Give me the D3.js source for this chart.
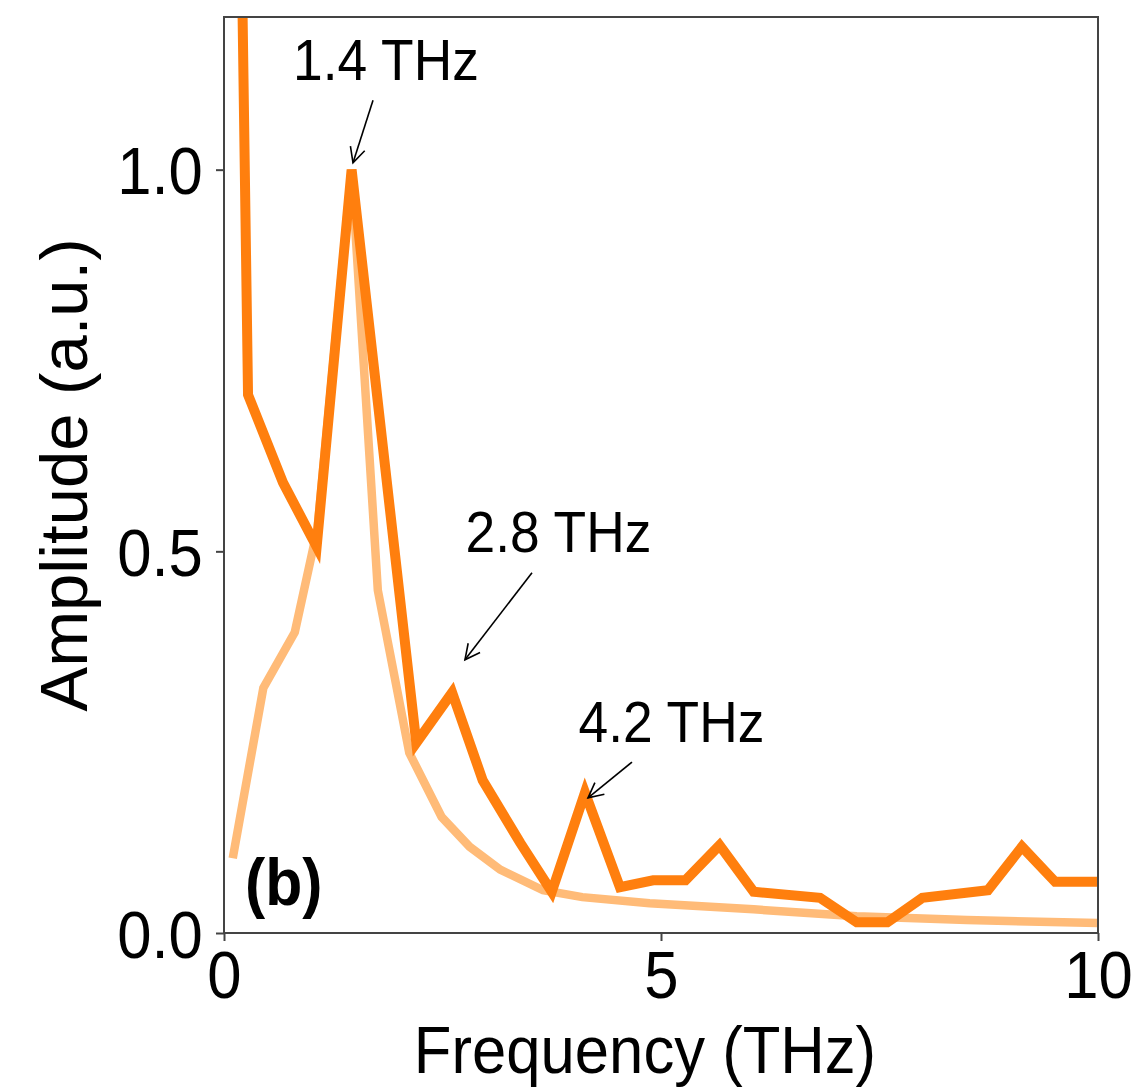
<!DOCTYPE html>
<html>
<head>
<meta charset="utf-8">
<script src="https://cdn.jsdelivr.net/npm/d3@7"></script>
<style>
  html, body { margin: 0; padding: 0; background: #fff; }
  svg { display: block; }
  text { font-family: "Liberation Sans", Arial, Helvetica, sans-serif; fill: #000; }
</style>
</head>
<body>
<svg id="chart" width="1133" height="1092"></svg>
<script>
// ---- data ----
const measuredFreq = [0.1, 0.275, 0.675, 1.06, 1.46, 2.2, 2.61, 2.96, 3.39, 3.75, 4.13, 4.53, 4.91, 5.28, 5.67, 6.06, 6.82, 7.24, 7.59, 7.99, 8.74, 9.13, 9.51, 10.0];
const measuredAmp  = [2.1, 0.705, 0.59, 0.506, 1.0, 0.249, 0.315, 0.20, 0.118, 0.054, 0.184, 0.060, 0.069, 0.069, 0.115, 0.054, 0.046, 0.014, 0.014, 0.046, 0.056, 0.113, 0.067, 0.067];

const fitFreq = [0.1, 0.45, 0.81, 1.07, 1.46, 1.76, 2.12, 2.49, 2.81, 3.16, 3.65, 4.1, 4.87, 6.06, 7.24, 8.5, 10.0];
const fitAmp  = [0.098, 0.321, 0.394, 0.53, 1.0, 0.449, 0.236, 0.152, 0.113, 0.083, 0.056, 0.047, 0.039, 0.031, 0.022, 0.017, 0.013];

const xTicks = [0, 5, 10];
const yTicks = [0.0, 0.5, 1.0];

const annLabels = ["1.4 THz", "2.8 THz", "4.2 THz"];
const annTipF   = [1.476, 2.757, 4.165];
const annTipA   = [1.009, 0.358, 0.177];
const annTailF  = [1.705, 3.524, 4.668];
const annTailA  = [1.091, 0.472, 0.224];
const annTextF  = [1.853, 3.827, 5.12];
const annTextA  = [1.1175, 0.499, 0.250];

const panelLabel = "(b)";
const xLabel = "Frequency (THz)";
const yLabel = "Amplitude (a.u.)";

// ---- layout ----
const W = 1133, H = 1092;
const plot = { left: 224, right: 1098, top: 17, bottom: 933 };
const squeeze = 0.92;

const svg = d3.select("#chart");
svg.append("rect").attr("width", W).attr("height", H).attr("fill", "#fff");

const x = d3.scaleLinear().domain([0, 10]).range([plot.left, plot.right]);
const y = d3.scaleLinear().domain([0, 1.2]).range([plot.bottom, plot.top]);

svg.append("defs").append("clipPath").attr("id", "clip")
  .append("rect")
  .attr("x", plot.left).attr("y", plot.top)
  .attr("width", plot.right - plot.left).attr("height", plot.bottom - plot.top);

const line = d3.line().x(d => x(d[0])).y(d => y(d[1]));

const fitData = fitFreq.map((f, i) => [f, fitAmp[i]]);
const measData = measuredFreq.map((f, i) => [f, measuredAmp[i]]);

const g = svg.append("g").attr("clip-path", "url(#clip)");
g.append("path").datum(fitData)
  .attr("d", line).attr("fill", "none")
  .attr("stroke", "#ffbb78").attr("stroke-width", 8.5)
  .attr("stroke-linejoin", "miter");
g.append("path").datum(measData)
  .attr("d", line).attr("fill", "none")
  .attr("stroke", "#ff7f0e").attr("stroke-width", 10)
  .attr("stroke-linejoin", "miter");

// frame
svg.append("rect")
  .attr("x", plot.left).attr("y", plot.top)
  .attr("width", plot.right - plot.left).attr("height", plot.bottom - plot.top)
  .attr("fill", "none").attr("stroke", "#444").attr("stroke-width", 2);

// axes
const fmtY = d3.format(".1f");
const yAxis = svg.append("g")
  .attr("transform", `translate(${plot.left},0)`)
  .call(d3.axisLeft(y).tickValues(yTicks).tickFormat(fmtY).tickSize(8).tickPadding(15));
const xAxis = svg.append("g")
  .attr("transform", `translate(0,${plot.bottom})`)
  .call(d3.axisBottom(x).tickValues(xTicks).tickFormat(d3.format("d")).tickSize(8).tickPadding(9));

[yAxis, xAxis].forEach(a => {
  a.select(".domain").remove();
  a.selectAll(".tick line").attr("stroke", "#444").attr("stroke-width", 2);
  a.selectAll(".tick text")
    .attr("fill", "#000")
    .style("font-family", '"Liberation Sans", Arial, sans-serif')
    .style("font-size", "67px")
    .attr("transform", `scale(${squeeze},1)`);
});
yAxis.selectAll(".tick text").attr("dy", "0.36em");

// axis labels
svg.append("text")
  .attr("transform", `translate(645,1073) scale(${squeeze},1)`)
  .attr("text-anchor", "middle")
  .style("font-size", "67px")
  .text(xLabel);

svg.append("text")
  .attr("transform", `translate(87,475) rotate(-90)`)
  .attr("text-anchor", "middle")
  .style("font-size", "67px")
  .text(yLabel);

// panel label
svg.append("text")
  .attr("transform", `translate(${plot.left + 21},${plot.bottom - 28}) scale(${squeeze},1)`)
  .style("font-size", "66px").style("font-weight", "bold")
  .text(panelLabel);

// annotations
const defs = svg.select("defs");
defs.append("marker")
  .attr("id", "head").attr("markerUnits", "userSpaceOnUse")
  .attr("viewBox", "-20 -12 24 24")
  .attr("markerWidth", 24).attr("markerHeight", 24)
  .attr("refX", 0).attr("refY", 0).attr("orient", "auto")
  .append("path").attr("d", "M-15,-7.5 L0,0 L-15,7.5")
  .attr("fill", "none").attr("stroke", "#000").attr("stroke-width", 1.6);

annLabels.forEach((lab, i) => {
  svg.append("line")
    .attr("x1", x(annTailF[i])).attr("y1", y(annTailA[i]))
    .attr("x2", x(annTipF[i])).attr("y2", y(annTipA[i]))
    .attr("stroke", "#000").attr("stroke-width", 1.6)
    .attr("marker-end", "url(#head)");
  svg.append("text")
    .attr("transform", `translate(${x(annTextF[i])},${y(annTextA[i])}) scale(${squeeze},1)`)
    .attr("text-anchor", "middle")
    .style("font-size", "58px")
    .text(lab);
});
</script>
</body>
</html>
